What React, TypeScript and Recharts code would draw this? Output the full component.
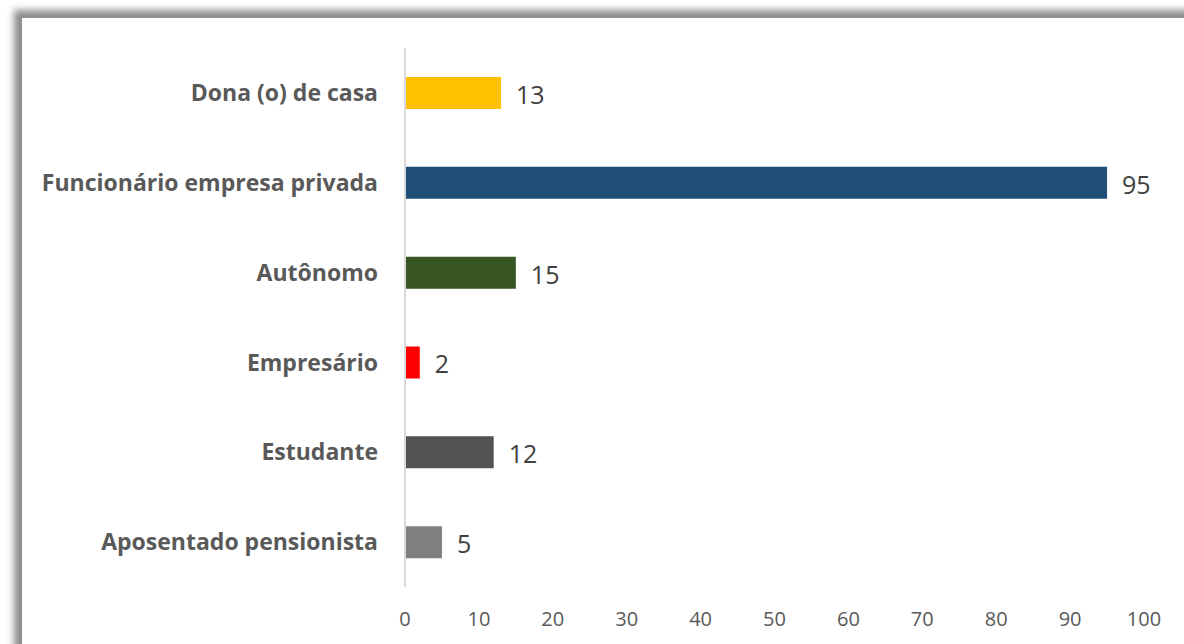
import React from "react"
import { BarChart, Bar, XAxis, YAxis, Cell, LabelList } from "recharts"

const categories = [
  "Dona (o) de casa",
  "Funcionário empresa privada",
  "Autônomo",
  "Empresário",
  "Estudante",
  "Aposentado pensionista",
]
const values = [13, 95, 15, 2, 12, 5]
const barColors = ["#FFC000", "#1F4E79", "#375623", "#FF0000", "#525252", "#7F7F7F"]
const xTicks = [0, 10, 20, 30, 40, 50, 60, 70, 80, 90, 100]

const data = categories.map((name, i) => ({ name, value: values[i] }))

const font = "'Open Sans', 'Liberation Sans', sans-serif"

if (typeof document !== "undefined") {
  document.body.style.margin = "0"
}

export default function App() {
  return (
    <div style={{ position: "relative", width: 1184, height: 644, overflow: "hidden", background: "#fff" }}>
      <div
        style={{
          position: "absolute",
          left: 22,
          top: 18,
          width: 1200,
          height: 700,
          background: "#fff",
          boxShadow: "-7px -7px 7px 1px rgba(0,0,0,0.45)",
        }}
      />
      <div style={{ position: "absolute", left: 0, top: 0 }}>
        <BarChart
          width={1184}
          height={644}
          data={data}
          layout="vertical"
          margin={{ top: 48, right: 40, bottom: 0, left: 0 }}
          barCategoryGap={0}
        >
          <XAxis
            type="number"
            domain={[0, 100]}
            ticks={xTicks}
            height={57}
            axisLine={false}
            tickLine={false}
            tickMargin={19}
            tick={{ fill: "#595959", fontSize: 20, fontFamily: font }}
          />
          <YAxis
            type="category"
            dataKey="name"
            width={405}
            axisLine={{ stroke: "#D9D9D9", strokeWidth: 2 }}
            tickLine={false}
            tickMargin={21}
            tick={{ fill: "#595959", fontSize: 23, fontWeight: 700, fontFamily: font }}
          />
          <Bar dataKey="value" barSize={32} isAnimationActive={false}>
            {data.map((d, i) => (
              <Cell key={d.name} fill={barColors[i]} />
            ))}
            <LabelList
              dataKey="value"
              position="right"
              offset={15}
              dy={2}
              fill="#404040"
              style={{ fontSize: 25, fontFamily: font }}
            />
          </Bar>
        </BarChart>
      </div>
    </div>
  )
}
